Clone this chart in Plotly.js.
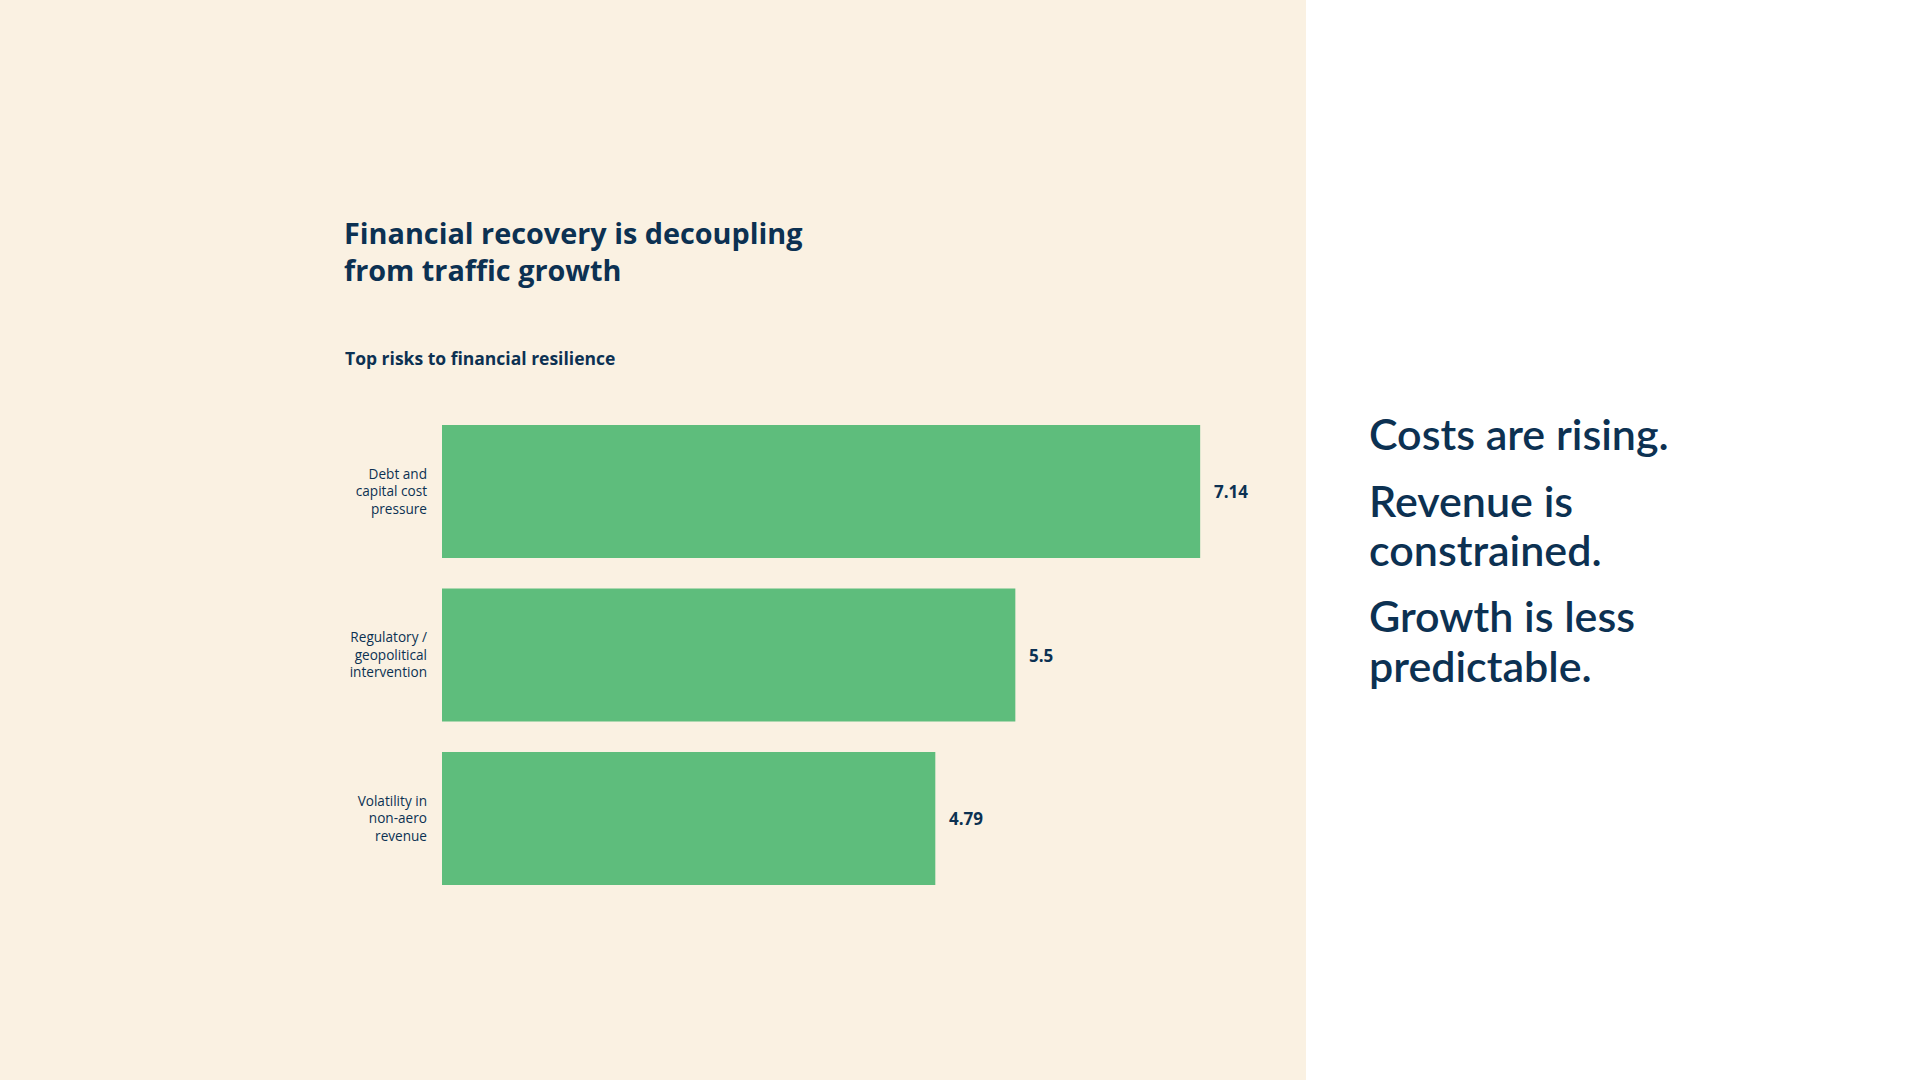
<!DOCTYPE html>
<html>
<head>
<meta charset="utf-8">
<script src="https://cdn.plot.ly/plotly-3.0.1.min.js"></script>
<style>
  html, body { margin: 0; padding: 0; background: #ffffff; }
  #chart { width: 1920px; height: 1080px; }
</style>
</head>
<body>
<div id="chart"></div>
<script>
// ---- data ----
const categories = [
  "Debt and<br>capital cost<br>pressure",
  "Regulatory /<br>geopolitical<br>intervention",
  "Volatility in<br>non-aero<br>revenue"
];
const values = [7.14, 5.5, 4.79];
const valueLabels = ["7.14", "5.5", "4.79"];

const chartTitle = "Financial recovery is decoupling<br>from traffic growth";
const chartSubtitle = "Top risks to financial resilience";
const sideLines = [
  "Costs are rising.",
  "Revenue is",
  "constrained.",
  "Growth is less",
  "predictable."
];

// ---- styles ----
const NAVY = "#0c3152";
const GREEN = "#5ebd7c";
const BEIGE = "#faf1e2";
const FONT = "'Open Sans', Lato, sans-serif";
const SIDEFONT = "Lato, 'Open Sans', sans-serif";

const W = 1920, H = 1080;
const px = v => v / W;
const py = v => 1 - v / H;

const sideY = [433, 500, 549, 615, 665];

const annotations = [];
annotations.push({
  xref: "paper", yref: "paper", x: px(344), y: py(358),
  xanchor: "left", yanchor: "middle", showarrow: false, borderpad: 0,
  text: chartSubtitle,
  font: { family: FONT, size: 17.5, color: NAVY, weight: 700 }
});
values.forEach((v, i) => {
  annotations.push({
    xref: "x", yref: "y", x: v, y: categories[i],
    xanchor: "left", yanchor: "middle", xshift: 13, showarrow: false, borderpad: 0,
    text: valueLabels[i],
    font: { family: FONT, size: 17, color: NAVY, weight: 700 }
  });
});
sideLines.forEach((t, i) => {
  annotations.push({
    xref: "paper", yref: "paper", x: px(1368), y: py(sideY[i]),
    xanchor: "left", yanchor: "middle", showarrow: false, borderpad: 0,
    text: t,
    font: { family: SIDEFONT, size: 43, color: NAVY, weight: 600 }
  });
});

const trace = {
  type: "bar",
  orientation: "h",
  x: values,
  y: categories,
  marker: { color: GREEN, line: { width: 0 } },
  hoverinfo: "x+y"
};

const layout = {
  width: W, height: H,
  margin: { l: 0, r: 0, t: 0, b: 0 },
  paper_bgcolor: "#ffffff",
  plot_bgcolor: "rgba(0,0,0,0)",
  showlegend: false,
  bargap: 0.187,
  title: {
    text: chartTitle,
    x: px(344), xref: "paper", xanchor: "left",
    y: py(244), yref: "paper", yanchor: "top",
    font: { family: FONT, size: 28.8, color: NAVY, weight: 700 }
  },
  xaxis: {
    domain: [px(442), px(1290)],
    range: [0.413, 7.937],
    showgrid: false, zeroline: false, showline: false,
    showticklabels: false, ticks: "", fixedrange: true
  },
  yaxis: {
    domain: [py(900.25), py(409.75)],
    range: [2.5, -0.5],
    type: "category",
    showgrid: false, zeroline: false, showline: false,
    ticks: "", ticklabelstandoff: 14,
    tickfont: { family: FONT, size: 13.6, color: NAVY },
    automargin: false, fixedrange: true
  },
  shapes: [{
    type: "rect", xref: "paper", yref: "paper",
    x0: 0, x1: px(1306), y0: 0, y1: 1,
    fillcolor: BEIGE, line: { width: 0 }, layer: "below"
  }],
  annotations: annotations
};

Plotly.newPlot("chart", [trace], layout, { displayModeBar: false, staticPlot: true });
</script>
</body>
</html>
